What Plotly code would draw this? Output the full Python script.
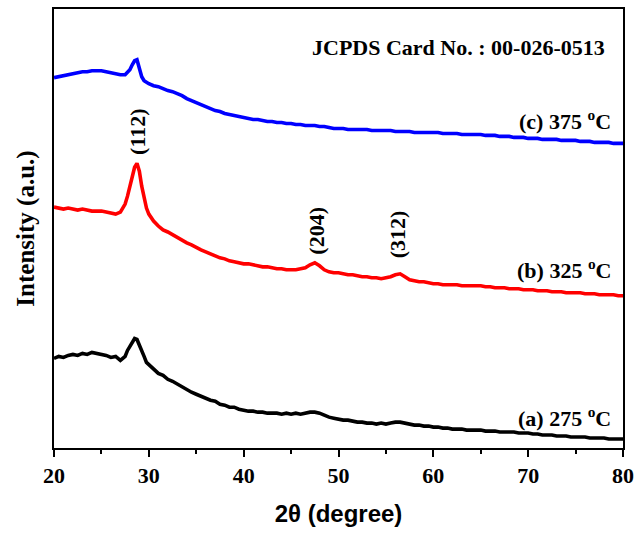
import plotly.graph_objects as go

# 2-theta grid (degrees)
two_theta = ([20 + 0.5 * i for i in range(16)] +
             [27.75 + 0.25 * i for i in range(9)] +
             [30 + 0.5 * i for i in range(101)])

# Intensities (a.u., with vertical offsets as drawn)
int_275 = [90, 92, 91, 93, 94, 93, 95, 94, 96, 95, 94, 93, 91, 92, 88, 92,
           98, 102, 106, 110, 109, 104, 98, 92, 86,
           84, 79, 75, 73, 69, 67, 64, 61, 59, 56, 54, 52, 50, 48, 47, 44, 43, 41, 41, 39,
           38, 37, 37, 36, 36, 35, 35, 35, 34, 35, 34, 35, 34, 35, 36, 36, 35, 33, 31, 30,
           29, 28, 28, 27, 26, 26, 25, 25, 24, 25, 24, 25, 26, 26, 25, 24, 23, 23, 22, 22,
           21, 21, 20, 20, 19, 19, 19, 18, 18, 18, 18, 17, 17, 17, 16, 16, 16, 16, 15, 15,
           15, 14, 14, 13, 13, 13, 12, 12, 12, 11, 11, 11, 11, 10, 10, 10, 10, 9, 9, 9, 9]

int_325 = [242, 241, 240, 241, 240, 239, 240, 239, 238, 238, 238, 237, 236, 235, 237, 245,
           253, 264, 274, 282, 286, 278, 263, 251, 241,
           235, 228, 223, 219, 217, 214, 211, 209, 206, 204, 201, 199, 197, 195, 193, 191, 190, 188, 187, 186,
           185, 185, 184, 183, 182, 182, 181, 180, 180, 179, 179, 179, 180, 181, 184, 186, 183, 179, 177, 176,
           176, 175, 174, 174, 173, 172, 172, 171, 171, 170, 171, 172, 174, 175, 172, 169, 168, 167, 167, 166,
           165, 165, 164, 164, 164, 164, 163, 163, 163, 163, 163, 162, 162, 161, 161, 161, 160, 160, 160, 159,
           159, 159, 158, 158, 158, 157, 157, 157, 156, 156, 156, 156, 155, 155, 155, 154, 154, 154, 154, 153, 153]

int_375 = [372, 373, 374, 375, 376, 377, 378, 378, 379, 379, 379, 378, 377, 376, 375, 375,
           377, 380, 385, 389, 390, 380, 373, 369, 367,
           366, 364, 363, 361, 359, 358, 356, 354, 351, 349, 347, 345, 343, 341, 339, 338, 336, 335, 334, 333,
           332, 331, 330, 330, 329, 328, 328, 327, 327, 326, 326, 325, 325, 324, 324, 324, 323, 323, 322, 321,
           321, 321, 320, 320, 320, 320, 320, 319, 319, 319, 319, 319, 318, 318, 318, 318, 317, 317, 317, 317,
           317, 317, 316, 316, 316, 316, 315, 315, 315, 315, 315, 314, 314, 314, 313, 313, 313, 312, 312, 312,
           311, 311, 311, 310, 310, 310, 310, 309, 309, 309, 309, 308, 308, 308, 307, 307, 307, 307, 306, 306, 306]

series = [("(a) 275 °C", int_275, "#000000"),
          ("(b) 325 °C", int_325, "#ff0000"),
          ("(c) 375 °C", int_375, "#0000ff")]

x_ticks = [20, 30, 40, 50, 60, 70, 80]
x_tick_labels = ["20", "30", "40", "50", "60", "70", "80"]

fig = go.Figure()
for name, vals, col in series:
    fig.add_trace(go.Scatter(x=two_theta, y=vals, mode="lines", name=name,
                             line=dict(color=col, width=3.6), showlegend=False))

serif = "Liberation Serif"
ann_font = dict(family=serif, size=22, color="black", weight="bold")

labels = [
    dict(x=78.9, y=330, text="(c) 375 <sup>o</sup>C"),
    dict(x=78.9, y=180, text="(b) 325 <sup>o</sup>C"),
    dict(x=78.9, y=31, text="(a) 275 <sup>o</sup>C"),
    dict(x=78.3, y=402, text="JCPDS Card No. : 00-026-0513"),
]
for a in labels:
    fig.add_annotation(xref="x", yref="y", showarrow=False, font=ann_font,
                       xanchor="right", yanchor="middle", **a)

hkl = [("(112)", 28.8, 318), ("(204)", 47.7, 218), ("(312)", 56.3, 215)]
for t, xv, yv in hkl:
    fig.add_annotation(x=xv, y=yv, xref="x", yref="y", text=t, textangle=-90,
                       showarrow=False, font=ann_font, xanchor="center", yanchor="middle")

fig.update_layout(
    width=644, height=536,
    margin=dict(l=54, r=21, t=7, b=88),
    paper_bgcolor="white", plot_bgcolor="white",
    xaxis=dict(range=[20, 80], tickvals=x_ticks, ticktext=["<b>%s</b>" % t for t in x_tick_labels],
               ticks="outside", ticklen=7, tickwidth=2,
               tickcolor="black", showline=True, linewidth=2, linecolor="black", mirror=True,
               showgrid=False, zeroline=False,
               tickfont=dict(family=serif, size=22, color="black"),
               minor=dict(dtick=5, ticks="outside", ticklen=4, tickwidth=2, tickcolor="black"),
               title=dict(text="<b>2θ (degree)</b>", standoff=18,
                          font=dict(family="Liberation Sans", size=24, color="black"))),
    yaxis=dict(range=[0, 441], showticklabels=False, ticks="", showline=True, linewidth=2,
               linecolor="black", mirror=True, showgrid=False, zeroline=False,
               title=dict(text="<b>Intensity (a.u.)</b>", standoff=10,
                          font=dict(family=serif, size=25, color="black"))),
)

fig.write_html("out.html", config={"displayModeBar": False},
               post_script="document.body.style.margin='0px';")
